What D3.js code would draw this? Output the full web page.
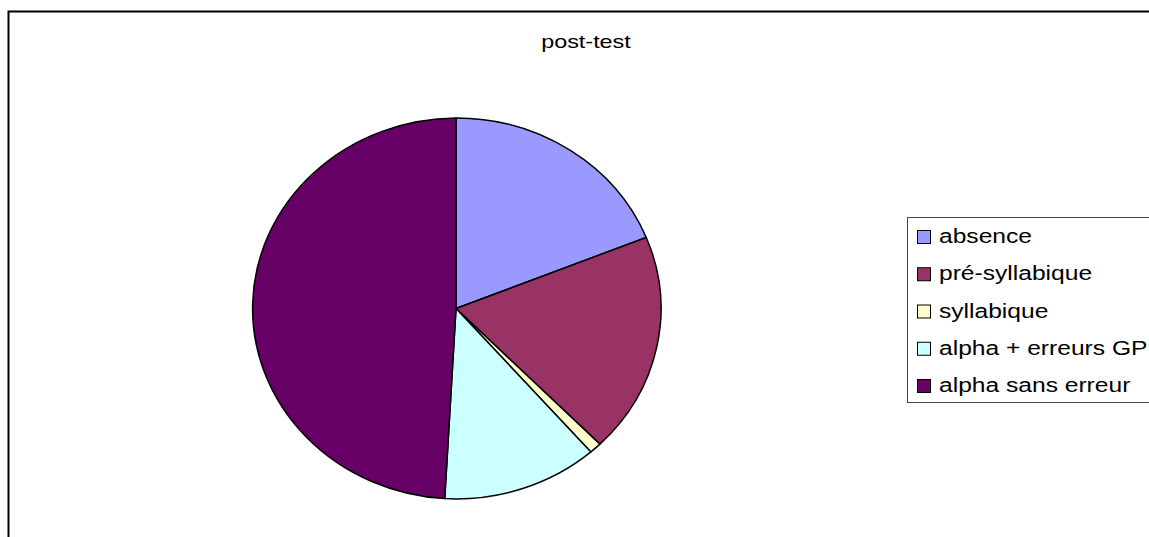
<!DOCTYPE html>
<html><head><meta charset="utf-8">
<script src="https://cdn.jsdelivr.net/npm/d3@7"></script>
<style>
html,body{margin:0;padding:0;background:#fff;}
svg{display:block;}
text{font-family:"Liberation Sans",Arial,sans-serif;fill:#000;}
</style></head>
<body>
<svg id="chart" width="1149" height="537"></svg>
<script>
const title = "post-test";
const categories = ["absence", "pré-syllabique", "syllabique", "alpha + erreurs GP", "alpha sans erreur"];
const values = [18.9, 18.7, 0.95, 12.3, 49.1];
const colors = ["#9999FF", "#993366", "#FFFFCC", "#CCFFFF", "#660066"];

const svg = d3.select("#chart");

// outer chart frame (extends past right/bottom edges)
svg.append("rect")
  .attr("x", 8.5).attr("y", 11.5)
  .attr("width", 1300).attr("height", 700)
  .attr("fill", "#fff").attr("stroke", "#000").attr("stroke-width", 2);

// title
svg.append("text")
  .attr("x", 0).attr("y", 0)
  .attr("transform", "translate(586,48) scale(1.23,1)")
  .attr("text-anchor", "middle")
  .attr("font-size", 19)
  .text(title);

// pie (elliptical)
const cx = 456, cy = 308.5, rx = 205, ry = 190.5;
const pie = d3.pie().sort(null).value(d => d.v);
const arc = d3.arc().innerRadius(0).outerRadius(1);
const data = categories.map((c, i) => ({c, v: values[i], col: colors[i]}));
const color = d3.scaleOrdinal().domain(categories).range(colors);

const g = svg.append("g").attr("transform", `translate(${cx},${cy}) scale(${rx},${ry})`);
g.selectAll("path").data(pie(data)).join("path")
  .attr("d", arc)
  .attr("fill", d => color(d.data.c))
  .attr("stroke", "#000")
  .attr("stroke-width", 1.5)
  .attr("stroke-linejoin", "round")
  .attr("vector-effect", "non-scaling-stroke");

// legend
svg.append("rect")
  .attr("x", 907.5).attr("y", 217.5)
  .attr("width", 400).attr("height", 185)
  .attr("fill", "#fff").attr("stroke", "#444").attr("stroke-width", 1);

const ly = d3.scalePoint().domain(categories).range([243, 392]);
const lg = svg.append("g");
const rows = lg.selectAll("g").data(categories).join("g")
  .attr("transform", d => `translate(0,${ly(d)})`);
rows.append("rect")
  .attr("x", 917.5).attr("y", -12.5)
  .attr("width", 13).attr("height", 13)
  .attr("fill", d => color(d))
  .attr("stroke", "#000").attr("stroke-width", 1);
rows.append("text")
  .attr("transform", "translate(939,0) scale(1.23,1)")
  .attr("font-size", 20)
  .text(d => d);
</script>
</body></html>
